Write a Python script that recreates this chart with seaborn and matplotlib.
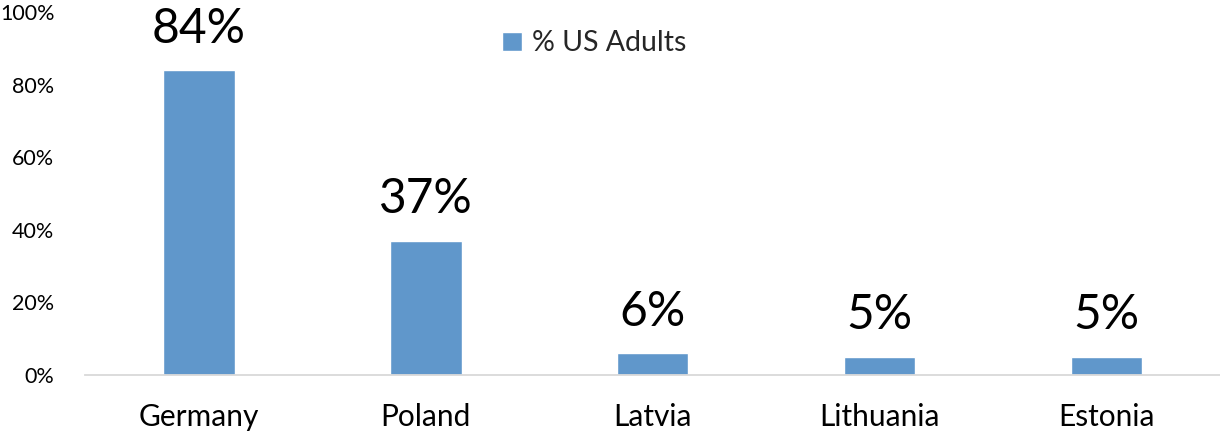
import matplotlib
matplotlib.use("Agg")
import matplotlib.pyplot as plt
import seaborn as sns
import pandas as pd
from matplotlib.ticker import PercentFormatter

countries = ["Germany", "Poland", "Latvia", "Lithuania", "Estonia"]
us_adults = [84, 37, 6, 5, 5]
series_name = "% US Adults"
yticks = [0, 20, 40, 60, 80, 100]

sns.set_theme(style="white")
plt.rcParams["font.family"] = ["Lato", "DejaVu Sans"]

df = pd.DataFrame({"country": countries, "value": us_adults, "series": series_name})

fig = plt.figure(figsize=(12.2, 4.32), dpi=100)
ax = fig.add_axes([0.0697, 0.132, 0.9303, 0.84])
sns.barplot(data=df, x="country", y="value", hue="series", palette=["#6097CB"],
            width=0.317, ax=ax, saturation=1)

for p, v in zip(ax.patches, us_adults):
    ax.annotate(f"{v}%", (p.get_x() + p.get_width() / 2, p.get_height()),
                xytext=(0, 14), textcoords="offset points", ha="center", va="bottom",
                fontsize=34.5, color="black")

ax.set_ylim(0, 100)
ax.set_yticks(yticks)
ax.yaxis.set_major_formatter(PercentFormatter(decimals=0))
ax.set_xlim(-0.5, 4.5)
ax.set_xlabel("")
ax.set_ylabel("")
ax.tick_params(axis="y", labelsize=15.5, length=0, pad=22, labelcolor="black")
ax.tick_params(axis="x", labelsize=21.5, length=0, pad=20, labelcolor="black")
for s in ["top", "right", "left"]:
    ax.spines[s].set_visible(False)
ax.spines["bottom"].set_color("#D9D9D9")
ax.spines["bottom"].set_linewidth(1.3)

leg = ax.legend(loc="upper left", bbox_to_anchor=(0.345, 1.02), frameon=False,
                fontsize=20.5, handlelength=0.7, handleheight=0.7, handletextpad=0.35)

fig.savefig("out.png", dpi=100)
